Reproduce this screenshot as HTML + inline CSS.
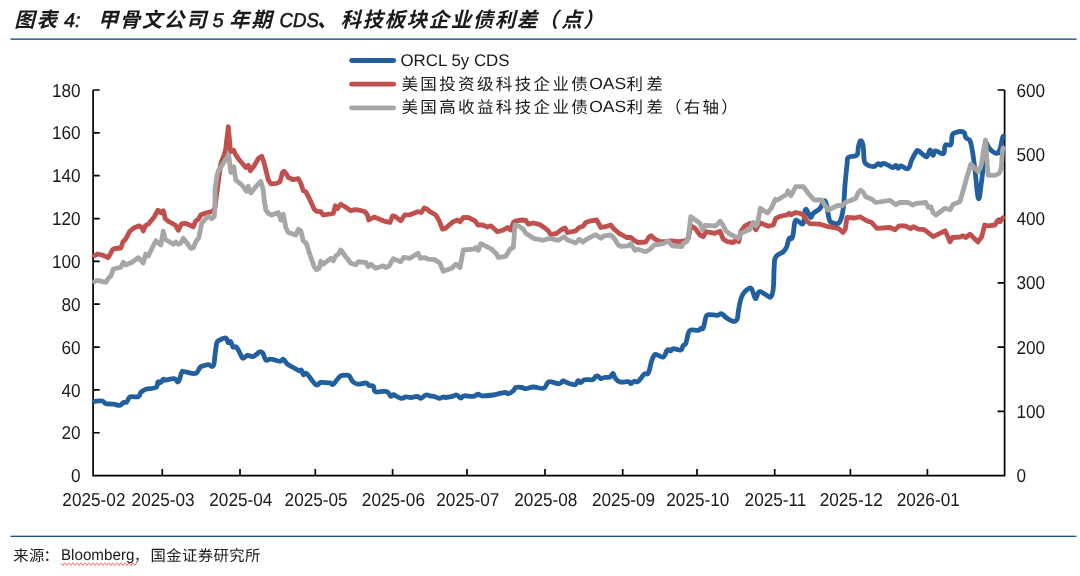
<!DOCTYPE html>
<html lang="zh">
<head>
<meta charset="utf-8">
<title>图表 4: 甲骨文公司 5 年期 CDS、科技板块企业债利差（点）</title>
<style>
html,body{margin:0;padding:0;background:#fff;}
body{width:1080px;height:576px;overflow:hidden;}
svg{display:block;will-change:transform;}
svg text{font-family:"Liberation Sans", "Noto Sans CJK SC", sans-serif;text-rendering:geometricPrecision;}
</style>
</head>
<body>
<svg width="1080" height="576" viewBox="0 0 1080 576">
<rect width="1080" height="576" fill="#fff"/>
<text x="14.3" y="26.9" font-size="20.5" font-style="italic" font-weight="bold" textLength="42.7" lengthAdjust="spacing" fill="#1a1a1a">图表</text>
<text x="64" y="26.6" font-size="20" font-style="italic" stroke="#1a1a1a" stroke-width="0.55" fill="#1a1a1a">4:</text>
<text x="97.7" y="26.9" font-size="20.5" font-style="italic" font-weight="bold" textLength="108.7" lengthAdjust="spacing" fill="#1a1a1a">甲骨文公司</text>
<text x="212.5" y="26.6" font-size="20" font-style="italic" stroke="#1a1a1a" stroke-width="0.55" fill="#1a1a1a">5</text>
<text x="229.1" y="26.9" font-size="20.5" font-style="italic" font-weight="bold" textLength="42.7" lengthAdjust="spacing" fill="#1a1a1a">年期</text>
<text x="279.5" y="26.6" font-size="20" font-style="italic" stroke="#1a1a1a" stroke-width="0.55" textLength="39.5" lengthAdjust="spacingAndGlyphs" fill="#1a1a1a">CDS</text>
<text x="317" y="26.9" font-size="20.5" font-style="italic" font-weight="bold" fill="#1a1a1a">、</text>
<text x="340.5" y="26.9" font-size="20.5" font-style="italic" font-weight="bold" textLength="196.7" lengthAdjust="spacing" fill="#1a1a1a">科技板块企业债利差</text>
<text x="537.7 561.2 583.2" y="26.9" font-size="20.5" font-style="italic" font-weight="bold" fill="#1a1a1a">（点）</text>
<rect x="10.5" y="38.35" width="1066" height="1.65" fill="#3a6e8c"/>
<rect x="10.5" y="535.65" width="1066" height="1.35" fill="#1c5878"/>
<line x1="351.6" y1="60.5" x2="393.7" y2="60.5" stroke="#215f9e" stroke-width="4.8" stroke-linecap="round"/>
<line x1="351.6" y1="84.2" x2="393.7" y2="84.2" stroke="#c0504d" stroke-width="4.8" stroke-linecap="round"/>
<line x1="351.6" y1="107.8" x2="393.7" y2="107.8" stroke="#a6a6a6" stroke-width="4.8" stroke-linecap="round"/>
<text x="400.4" y="66" font-size="16.9" fill="#1a1a1a">ORCL 5y CDS</text>
<text x="401.4" y="90.3" font-size="16.5" textLength="186.4" lengthAdjust="spacing" fill="#1a1a1a">美国投资级科技企业债</text>
<text x="589.2" y="88.7" font-size="16.2" textLength="37.0" lengthAdjust="spacingAndGlyphs" fill="#1a1a1a">OAS</text>
<text x="626.5" y="90.3" font-size="16.5" textLength="36.4" lengthAdjust="spacing" fill="#1a1a1a">利差</text>
<text x="401.4" y="113.4" font-size="16.5" textLength="186.4" lengthAdjust="spacing" fill="#1a1a1a">美国高收益科技企业债</text>
<text x="589.2" y="111.8" font-size="16.2" textLength="37.0" lengthAdjust="spacingAndGlyphs" fill="#1a1a1a">OAS</text>
<text x="626.5" y="113.4" font-size="16.5" textLength="36.4" lengthAdjust="spacing" fill="#1a1a1a">利差</text>
<text x="665.0 683.7 702.5 721.2" y="113.4" font-size="16.5" fill="#1a1a1a">（右轴）</text>
<path d="M93.1 90.0 V475.6 H1004.6 V90.0 M93.1 90.00 h6.6 M93.1 132.84 h6.6 M93.1 175.69 h6.6 M93.1 218.53 h6.6 M93.1 261.38 h6.6 M93.1 304.22 h6.6 M93.1 347.07 h6.6 M93.1 389.91 h6.6 M93.1 432.76 h6.6 M1004.6 90.00 h-7 M1004.6 154.27 h-7 M1004.6 218.53 h-7 M1004.6 282.80 h-7 M1004.6 347.07 h-7 M1004.6 411.33 h-7 M162.3 475.6 v-6.6 M240.0 475.6 v-6.6 M315.3 475.6 v-6.6 M392.6 475.6 v-6.6 M467.0 475.6 v-6.6 M545.0 475.6 v-6.6 M622.7 475.6 v-6.6 M697.0 475.6 v-6.6 M774.7 475.6 v-6.6 M850.4 475.6 v-6.6 M927.4 475.6 v-6.6" fill="none" stroke="#000" stroke-width="1.7" stroke-linecap="butt" stroke-linejoin="miter"/>
<g font-size="17.2" fill="#1a1a1a">
<g text-anchor="end">
<text transform="translate(80.6 96.6) scale(1 1.085)">180</text>
<text transform="translate(80.6 139.4) scale(1 1.085)">160</text>
<text transform="translate(80.6 182.3) scale(1 1.085)">140</text>
<text transform="translate(80.6 225.1) scale(1 1.085)">120</text>
<text transform="translate(80.6 268.0) scale(1 1.085)">100</text>
<text transform="translate(80.6 310.8) scale(1 1.085)">80</text>
<text transform="translate(80.6 353.7) scale(1 1.085)">60</text>
<text transform="translate(80.6 396.5) scale(1 1.085)">40</text>
<text transform="translate(80.6 439.4) scale(1 1.085)">20</text>
<text transform="translate(80.6 482.2) scale(1 1.085)">0</text>
</g>
<g text-anchor="start">
<text transform="translate(1016.4 96.6) scale(1 1.085)">600</text>
<text transform="translate(1016.4 160.9) scale(1 1.085)">500</text>
<text transform="translate(1016.4 225.1) scale(1 1.085)">400</text>
<text transform="translate(1016.4 289.4) scale(1 1.085)">300</text>
<text transform="translate(1016.4 353.7) scale(1 1.085)">200</text>
<text transform="translate(1016.4 417.9) scale(1 1.085)">100</text>
<text transform="translate(1016.4 482.2) scale(1 1.085)">0</text>
</g>
<g text-anchor="middle">
<text transform="translate(93.9 506.0) scale(1 1.085)">2025-02</text>
<text transform="translate(163.1 506.0) scale(1 1.085)">2025-03</text>
<text transform="translate(240.8 506.0) scale(1 1.085)">2025-04</text>
<text transform="translate(316.1 506.0) scale(1 1.085)">2025-05</text>
<text transform="translate(393.4 506.0) scale(1 1.085)">2025-06</text>
<text transform="translate(467.8 506.0) scale(1 1.085)">2025-07</text>
<text transform="translate(545.8 506.0) scale(1 1.085)">2025-08</text>
<text transform="translate(623.5 506.0) scale(1 1.085)">2025-09</text>
<text transform="translate(697.8 506.0) scale(1 1.085)">2025-10</text>
<text transform="translate(775.5 506.0) scale(1 1.085)">2025-11</text>
<text transform="translate(851.2 506.0) scale(1 1.085)">2025-12</text>
<text transform="translate(928.2 506.0) scale(1 1.085)">2026-01</text>
</g>
</g>
<g fill="none" stroke-width="4.8" stroke-linejoin="round" stroke-linecap="round">
<path stroke="#215f9e" d="M94.5 401.3 C96.1 401.3 100.2 400.5 102.5 401.0 C104.8 401.5 103.7 403.0 105.8 403.7 C108.0 404.3 110.5 403.8 113.3 404.2 C116.2 404.5 118.0 405.7 120.0 405.3 C122.0 405.0 122.0 403.2 123.3 402.5 C124.7 401.8 125.3 403.1 126.7 402.0 C128.0 400.9 127.7 398.1 130.0 397.0 C132.3 395.9 136.2 397.6 138.3 396.7 C140.5 395.8 139.3 394.0 140.8 392.5 C142.3 391.0 142.8 390.2 145.8 389.2 C148.8 388.2 153.4 388.9 155.8 387.5 C158.3 386.1 157.0 383.0 158.0 382.0 C159.0 381.0 159.8 383.1 160.8 382.5 C161.9 381.9 162.3 379.7 163.3 379.2 C164.3 378.7 163.7 380.1 165.8 380.0 C168.0 379.9 171.7 378.3 174.2 378.7 C176.7 379.0 176.8 382.9 178.3 381.7 C179.8 380.4 180.5 374.5 181.7 372.5 C182.8 370.5 181.7 371.4 184.2 371.7 C186.7 371.9 191.5 373.7 194.2 373.7 C196.8 373.7 196.3 372.9 197.5 371.7 C198.7 370.4 198.8 368.7 200.0 367.5 C201.2 366.3 201.7 366.4 203.3 365.8 C205.0 365.3 206.3 364.7 208.3 364.7 C210.3 364.7 212.0 367.8 213.3 365.8 C214.7 363.9 214.3 359.5 215.0 355.0 C215.7 350.5 215.8 346.3 216.7 343.3 C217.5 340.4 217.3 341.4 219.2 340.3 C221.0 339.3 224.1 337.6 225.8 338.0 C227.6 338.4 227.0 341.8 228.0 342.5 C229.0 343.2 229.8 340.8 230.8 341.7 C231.8 342.6 232.0 346.0 233.0 347.0 C234.0 348.0 234.8 346.1 235.8 346.7 C236.9 347.3 237.3 348.3 238.3 350.0 C239.3 351.7 239.8 353.3 240.8 355.0 C241.8 356.7 242.0 358.3 243.3 358.3 C244.7 358.4 245.7 355.7 247.5 355.3 C249.3 355.0 250.7 356.9 252.5 356.7 C254.3 356.4 255.2 355.2 256.7 354.2 C258.2 353.2 258.7 351.8 260.0 351.7 C261.3 351.5 261.8 351.7 263.0 353.3 C264.2 355.0 264.3 358.8 265.8 360.0 C267.4 361.2 268.0 358.9 270.8 359.2 C273.7 359.4 277.5 361.3 280.0 361.3 C282.5 361.3 281.8 358.6 283.3 359.2 C284.8 359.7 285.5 362.5 287.5 364.2 C289.5 365.8 291.0 366.2 293.3 367.5 C295.7 368.8 297.6 370.3 299.2 370.8 C300.8 371.3 300.5 369.2 301.3 370.0 C302.2 370.8 302.3 373.9 303.3 374.7 C304.4 375.4 304.2 371.7 306.7 373.7 C309.2 375.7 313.0 382.9 315.8 384.7 C318.7 386.4 318.0 382.8 320.8 382.5 C323.7 382.2 327.5 382.7 330.0 383.0 C332.5 383.3 331.3 385.5 333.3 384.2 C335.3 382.8 337.7 378.1 340.0 376.3 C342.3 374.6 343.2 375.4 345.0 375.3 C346.8 375.2 347.7 374.6 349.2 375.8 C350.7 377.0 350.8 379.7 352.5 381.3 C354.2 383.0 354.8 383.8 357.5 384.2 C360.2 384.5 363.5 382.8 365.8 383.0 C368.2 383.2 367.7 384.7 369.2 385.3 C370.7 386.0 372.1 385.1 373.3 386.3 C374.6 387.6 373.3 390.7 375.3 391.7 C377.3 392.7 380.9 391.3 383.3 391.3 C385.8 391.4 386.0 391.0 387.5 392.0 C389.0 393.0 389.7 395.8 390.8 396.3 C392.0 396.9 391.3 394.3 393.3 394.7 C395.3 395.1 398.3 397.9 400.8 398.3 C403.3 398.8 403.8 397.2 405.8 397.0 C407.8 396.8 408.5 397.6 410.8 397.5 C413.2 397.4 415.5 396.2 417.5 396.3 C419.5 396.5 419.2 398.6 420.8 398.3 C422.5 398.1 424.0 395.5 425.8 395.0 C427.7 394.5 428.2 395.5 430.0 395.8 C431.8 396.2 433.2 396.2 435.0 396.7 C436.8 397.2 437.5 398.3 439.2 398.3 C440.8 398.4 442.0 397.2 443.3 397.0 C444.7 396.8 444.0 397.6 445.8 397.5 C447.7 397.4 450.3 396.8 452.5 396.3 C454.7 395.8 455.0 394.7 456.7 395.0 C458.3 395.3 459.3 397.8 460.8 398.0 C462.3 398.2 461.7 396.2 464.2 395.8 C466.7 395.5 470.5 396.7 473.3 396.3 C476.2 396.0 476.7 394.3 478.3 394.2 C480.0 394.1 478.7 395.7 481.7 395.8 C484.7 396.0 489.7 395.5 493.3 395.0 C497.0 394.5 497.5 393.8 500.0 393.3 C502.5 392.8 504.2 392.4 505.8 392.5 C507.5 392.6 506.8 394.0 508.3 393.7 C509.8 393.3 511.8 392.1 513.3 390.8 C514.8 389.6 514.2 388.2 515.8 387.5 C517.5 386.8 519.7 387.3 521.7 387.5 C523.7 387.7 523.5 388.8 525.8 388.7 C528.2 388.6 529.8 387.1 533.3 387.0 C536.8 386.9 540.5 389.1 543.3 388.3 C546.2 387.5 546.2 384.3 547.5 383.0 C548.8 381.7 547.7 381.5 550.0 381.7 C552.3 381.8 556.6 383.8 559.2 383.7 C561.8 383.5 561.5 381.1 563.0 380.8 C564.5 380.6 564.3 381.7 566.7 382.5 C569.1 383.3 572.7 385.0 575.0 384.7 C577.3 384.3 576.8 381.3 578.0 380.8 C579.2 380.4 579.4 382.7 580.8 382.5 C582.2 382.3 582.7 380.2 585.0 379.7 C587.3 379.1 590.3 380.3 592.5 379.7 C594.7 379.0 594.7 377.0 595.8 376.3 C597.0 375.7 597.3 375.9 598.3 376.3 C599.3 376.8 599.7 378.4 600.8 378.7 C602.0 378.9 602.3 377.8 604.2 377.5 C606.0 377.2 608.2 377.8 610.0 377.0 C611.8 376.2 611.9 373.1 613.0 373.3 C614.1 373.6 613.9 376.6 615.3 378.3 C616.7 380.1 617.4 381.3 620.0 382.0 C622.6 382.7 626.2 381.3 628.3 381.7 C630.5 382.0 629.7 383.7 630.8 383.7 C632.0 383.6 632.7 381.8 634.2 381.3 C635.7 380.9 636.3 382.8 638.3 381.3 C640.3 379.9 642.2 375.8 644.2 374.2 C646.2 372.5 646.8 375.7 648.3 373.0 C649.8 370.3 650.5 364.4 651.7 360.8 C652.8 357.3 653.2 356.6 654.2 355.3 C655.2 354.1 654.8 354.3 656.7 354.7 C658.5 355.0 661.3 357.8 663.3 357.0 C665.3 356.2 665.7 352.3 666.7 350.8 C667.7 349.4 667.5 349.7 668.3 349.7 C669.2 349.7 669.8 351.0 670.8 350.8 C671.8 350.6 671.3 348.8 673.3 348.7 C675.3 348.5 678.9 350.6 680.8 350.0 C682.8 349.4 682.0 347.2 683.0 345.8 C684.0 344.5 684.8 345.8 685.8 343.3 C686.9 340.8 687.3 336.0 688.3 333.3 C689.3 330.7 688.8 330.6 690.8 330.0 C692.8 329.4 696.3 330.7 698.3 330.3 C700.3 330.0 699.8 328.8 700.8 328.3 C701.8 327.9 702.3 330.2 703.3 328.0 C704.3 325.8 704.8 320.2 705.8 317.5 C706.8 314.8 706.0 315.1 708.3 314.7 C710.7 314.2 715.0 315.5 717.5 315.3 C720.0 315.1 719.7 313.7 720.8 313.7 C722.0 313.6 722.2 314.1 723.3 315.0 C724.5 315.9 725.0 316.8 726.7 318.0 C728.3 319.2 730.1 320.2 731.7 320.8 C733.3 321.5 733.5 321.8 734.7 321.3 C735.8 320.9 736.5 321.1 737.3 318.7 C738.1 316.2 737.8 313.6 738.7 309.2 C739.5 304.8 740.2 300.3 741.7 296.7 C743.1 293.0 744.0 292.6 745.8 290.8 C747.7 289.1 749.3 287.5 750.8 288.0 C752.3 288.5 752.3 291.2 753.3 293.3 C754.3 295.5 754.7 299.0 755.8 298.7 C757.0 298.3 757.2 292.5 759.2 291.7 C761.2 290.9 763.5 293.6 765.8 294.7 C768.2 295.7 769.3 298.3 770.8 297.0 C772.3 295.7 772.7 294.4 773.3 288.3 C774.0 282.3 773.7 273.0 774.2 266.7 C774.7 260.3 774.0 259.7 775.8 256.7 C777.7 253.7 781.2 253.7 783.3 251.7 C785.5 249.7 785.5 249.3 786.7 246.7 C787.8 244.0 788.0 240.2 789.2 238.3 C790.3 236.5 791.3 240.8 792.5 237.5 C793.7 234.2 793.8 224.9 795.0 221.7 C796.2 218.4 796.7 221.0 798.3 221.3 C800.0 221.7 801.9 225.6 803.3 223.3 C804.7 221.1 804.4 212.2 805.3 210.0 C806.3 207.8 806.9 211.0 808.0 212.5 C809.1 214.0 809.8 217.3 810.8 217.5 C811.9 217.7 811.5 215.2 813.3 213.3 C815.2 211.5 817.8 210.8 820.0 208.3 C822.2 205.8 822.8 201.3 824.2 200.8 C825.5 200.3 825.7 202.2 826.7 205.8 C827.7 209.5 828.2 215.8 829.2 219.2 C830.2 222.5 829.8 221.7 831.7 222.5 C833.5 223.3 836.3 224.5 838.3 223.3 C840.3 222.2 840.6 220.3 841.7 216.7 C842.7 213.0 843.0 211.3 843.7 205.0 C844.3 198.7 844.3 193.0 845.0 185.0 C845.7 177.0 846.3 170.5 847.0 165.0 C847.7 159.5 846.4 159.4 848.3 157.5 C850.3 155.6 854.7 157.3 856.7 155.3 C858.7 153.3 857.6 150.4 858.3 147.5 C859.1 144.6 859.4 141.3 860.3 140.8 C861.3 140.3 862.2 141.2 863.0 145.0 C863.8 148.8 863.5 156.2 864.2 160.0 C864.8 163.8 864.5 162.8 866.3 164.2 C868.2 165.5 870.9 166.8 873.3 166.7 C875.7 166.6 876.8 163.9 878.3 163.7 C879.8 163.4 879.8 165.4 880.8 165.3 C881.8 165.3 881.8 163.3 883.3 163.3 C884.8 163.3 886.3 164.5 888.3 165.3 C890.3 166.2 891.8 167.5 893.3 167.5 C894.8 167.5 894.8 165.2 895.8 165.3 C896.8 165.5 897.3 168.2 898.3 168.3 C899.3 168.4 898.9 165.8 900.8 165.8 C902.8 165.9 905.8 169.8 908.0 168.7 C910.2 167.5 910.1 163.2 911.7 160.0 C913.2 156.8 914.5 154.3 915.8 152.5 C917.2 150.7 916.3 150.0 918.3 150.8 C920.3 151.7 923.8 156.1 925.8 156.7 C927.8 157.2 927.4 155.0 928.3 153.7 C929.2 152.3 929.4 149.7 930.3 150.0 C931.3 150.3 932.0 155.2 933.0 155.3 C934.0 155.5 933.3 151.2 935.3 150.8 C937.4 150.5 941.3 154.8 943.3 153.7 C945.3 152.6 943.8 147.1 945.3 145.3 C946.8 143.5 949.5 146.4 950.8 144.7 C952.2 142.9 951.3 139.0 952.0 136.7 C952.7 134.3 951.9 133.9 954.2 133.0 C956.4 132.1 961.0 131.1 963.3 132.0 C965.7 132.9 964.5 135.7 965.8 137.5 C967.2 139.3 968.7 138.0 970.0 140.8 C971.3 143.7 971.5 145.8 972.5 151.7 C973.5 157.5 973.8 160.7 975.0 170.0 C976.2 179.3 977.1 195.7 978.3 198.3 C979.6 201.0 980.3 190.7 981.3 183.3 C982.4 176.0 982.8 169.5 983.7 161.7 C984.6 153.8 984.9 147.1 985.8 144.2 C986.8 141.2 987.2 145.7 988.3 147.0 C989.5 148.3 990.0 149.6 991.7 150.8 C993.3 152.1 995.0 153.7 996.7 153.3 C998.3 153.0 998.9 151.8 1000.0 149.2 C1001.1 146.5 1001.4 142.6 1002.0 140.0 C1002.6 137.4 1002.9 137.1 1003.2 136.3"/>
<path stroke="#c0504d" d="M94.5 255.7 L97.5 254.0 L103.3 255.3 L108.0 257.7 L110.3 254.2 L112.5 249.7 L115.0 248.5 L120.8 248.0 L123.0 241.7 L125.5 239.3 L129.7 231.3 L133.7 228.0 L139.2 225.8 L141.7 227.5 L143.3 231.0 L145.3 225.8 L148.7 223.7 L154.2 217.0 L158.0 210.3 L160.8 212.7 L163.3 210.7 L165.3 218.7 L168.3 221.3 L175.3 225.0 L178.3 230.3 L181.7 223.7 L185.3 223.3 L193.3 226.7 L195.7 221.0 L198.3 219.3 L200.7 215.0 L205.0 213.3 L211.7 211.7 L214.7 209.2 L220.8 163.3 L224.2 155.0 L225.8 148.3 L228.3 126.7 L230.5 151.7 L233.7 150.3 L235.8 155.0 L240.0 160.8 L245.8 167.5 L248.3 165.3 L250.3 170.8 L254.2 165.8 L258.7 158.0 L261.7 156.3 L264.2 163.3 L268.3 180.0 L270.8 183.8 L276.7 183.3 L280.0 181.7 L282.5 172.5 L284.2 171.3 L286.7 174.2 L288.3 177.5 L293.3 179.7 L298.3 178.7 L300.8 183.3 L303.3 190.8 L305.8 191.7 L309.2 198.3 L314.2 209.2 L316.7 211.3 L320.8 211.7 L323.3 215.0 L333.3 213.3 L335.3 205.8 L337.5 208.7 L340.8 204.2 L345.0 206.7 L350.8 210.8 L354.2 209.7 L358.3 210.0 L360.0 210.3 L365.0 211.7 L367.5 215.0 L368.7 220.0 L374.2 217.0 L383.3 220.8 L390.0 222.5 L392.5 215.8 L395.0 216.3 L400.8 220.8 L404.7 215.0 L410.0 214.7 L417.5 211.7 L421.3 212.5 L424.2 208.0 L426.7 208.7 L430.0 211.7 L435.8 215.0 L439.2 220.8 L442.5 229.2 L445.0 228.7 L453.3 221.7 L457.5 220.0 L460.0 221.7 L463.3 217.5 L468.3 217.5 L475.0 220.8 L478.0 225.0 L482.5 225.0 L487.5 227.0 L490.8 225.8 L497.5 231.7 L503.3 230.0 L507.5 227.5 L510.8 230.0 L513.3 222.5 L515.8 220.8 L522.5 220.0 L525.8 220.3 L528.3 224.2 L533.3 223.0 L540.0 224.7 L544.2 227.5 L548.3 230.8 L550.8 234.7 L556.7 233.3 L560.8 230.0 L565.0 228.0 L567.5 232.5 L575.8 230.8 L579.2 227.5 L583.0 226.3 L585.8 222.5 L590.8 220.8 L596.7 220.0 L600.8 227.5 L605.0 226.7 L610.8 225.0 L614.2 229.2 L619.2 233.3 L626.7 237.5 L630.8 237.5 L635.0 240.8 L638.3 242.5 L645.8 242.0 L649.2 236.7 L651.3 235.8 L655.0 239.2 L660.0 241.7 L666.7 241.3 L671.7 240.8 L678.3 241.7 L685.0 240.8 L688.3 238.3 L690.8 225.8 L695.0 228.3 L700.0 235.0 L703.3 236.7 L705.8 231.7 L715.0 233.3 L720.0 231.3 L723.3 239.2 L727.5 241.7 L733.3 242.5 L735.8 240.0 L738.7 241.7 L740.8 231.7 L745.0 225.8 L750.0 223.3 L753.3 225.8 L755.8 229.7 L758.0 225.8 L760.8 223.0 L768.3 226.3 L773.3 225.0 L775.8 218.3 L780.0 216.3 L786.7 215.0 L789.2 213.3 L790.8 214.7 L795.8 212.5 L800.0 213.3 L804.2 215.8 L806.7 220.8 L810.0 223.7 L820.0 224.2 L828.3 226.7 L838.3 228.3 L843.0 232.5 L845.3 229.2 L847.0 217.5 L855.0 218.0 L860.0 216.7 L866.7 220.8 L871.7 222.5 L876.7 228.3 L890.0 227.5 L895.0 229.7 L899.2 225.8 L905.0 225.8 L910.8 228.7 L913.3 226.7 L918.3 229.2 L924.2 229.7 L933.3 236.7 L945.0 230.8 L947.5 235.8 L950.0 241.7 L952.5 237.5 L960.0 237.0 L963.3 235.8 L965.8 237.5 L970.0 234.2 L978.0 242.0 L981.7 236.7 L984.7 225.0 L988.3 225.8 L995.0 225.0 L997.5 220.8 L1000.0 221.7 L1003.0 217.8"/>
<path stroke="#a6a6a6" d="M94.5 281.7 L97.5 280.3 L105.8 282.3 L108.7 278.0 L111.0 275.8 L113.3 269.0 L120.8 267.3 L123.3 262.3 L125.7 265.0 L132.0 262.3 L138.3 257.7 L143.3 263.0 L145.7 254.0 L148.3 256.0 L152.0 248.3 L155.8 240.7 L160.8 245.0 L163.3 231.3 L165.3 239.3 L173.3 244.3 L175.8 242.0 L178.3 244.3 L180.8 243.3 L183.3 238.3 L190.8 248.3 L193.3 247.7 L196.0 241.3 L198.7 238.0 L201.7 223.3 L205.0 219.3 L208.3 216.3 L211.7 218.7 L214.2 216.7 L215.0 206.7 L215.0 190.0 L216.7 176.7 L218.3 170.8 L223.3 163.3 L228.7 155.0 L230.8 172.5 L233.7 166.7 L235.8 180.0 L240.0 183.3 L243.3 186.7 L246.3 191.3 L248.3 186.3 L250.8 193.0 L255.8 186.7 L260.8 181.3 L263.3 190.0 L264.2 200.0 L265.8 210.0 L268.3 213.3 L271.7 215.0 L278.3 212.5 L280.8 220.0 L283.3 214.2 L285.8 227.5 L288.3 232.5 L295.8 235.0 L298.3 229.2 L300.8 230.8 L303.3 240.8 L306.3 243.3 L310.0 255.0 L314.2 266.7 L316.7 269.7 L319.2 268.3 L320.8 261.3 L323.3 264.2 L330.8 258.3 L333.3 260.8 L335.8 255.8 L338.3 254.2 L340.8 250.0 L345.8 256.7 L350.8 263.3 L355.8 264.7 L358.3 261.7 L360.0 262.0 L365.8 262.5 L368.3 266.7 L370.8 264.2 L375.8 268.3 L383.3 265.8 L385.8 267.5 L389.2 265.8 L393.3 258.7 L400.8 261.7 L403.7 257.5 L410.0 258.3 L418.0 253.3 L420.3 258.3 L424.2 257.5 L428.3 259.2 L435.0 259.7 L440.0 263.3 L443.3 271.3 L451.7 268.3 L455.8 264.2 L460.0 267.5 L463.3 250.0 L474.2 249.2 L475.8 247.5 L478.3 250.3 L480.8 243.7 L491.7 249.2 L496.7 254.2 L498.3 257.5 L505.8 256.3 L510.0 249.2 L513.3 247.5 L515.0 225.0 L518.3 225.8 L523.3 229.2 L525.8 233.3 L533.3 238.3 L540.0 239.7 L543.3 240.3 L550.0 238.3 L558.3 240.3 L564.2 236.7 L567.5 240.0 L575.8 243.0 L579.2 239.2 L583.0 242.0 L586.7 239.2 L595.8 234.7 L600.8 238.3 L604.2 235.8 L610.8 235.0 L614.2 238.3 L618.3 245.0 L620.8 246.3 L628.3 245.8 L630.8 243.7 L635.0 250.3 L637.5 249.2 L645.8 251.7 L650.0 249.2 L654.2 245.0 L663.3 243.7 L668.0 240.8 L672.5 245.8 L681.7 246.7 L683.3 243.3 L686.7 241.7 L688.3 236.7 L690.8 216.7 L695.0 219.7 L700.0 223.3 L702.5 230.0 L705.0 225.3 L715.8 225.8 L720.0 221.3 L722.5 224.2 L725.8 230.8 L730.0 234.2 L735.8 237.0 L738.3 238.3 L740.8 233.3 L750.0 229.2 L753.3 222.5 L755.8 225.8 L757.5 223.3 L760.3 208.3 L767.5 213.0 L771.7 207.5 L775.3 199.2 L777.5 200.0 L786.7 194.2 L788.0 190.8 L790.8 195.8 L795.8 186.7 L803.3 186.7 L808.3 193.3 L814.2 200.0 L821.7 200.0 L824.7 205.0 L828.0 210.0 L838.3 205.3 L841.7 205.8 L846.7 201.7 L850.0 200.8 L855.8 198.3 L858.3 192.5 L860.8 190.3 L863.3 192.5 L865.8 196.7 L871.7 199.2 L875.8 202.5 L890.0 200.3 L895.8 204.7 L900.0 202.5 L908.3 202.5 L912.5 205.0 L916.7 203.3 L925.8 202.5 L928.3 207.5 L930.8 206.7 L933.3 213.0 L935.8 215.0 L945.0 208.3 L950.0 209.7 L953.3 204.2 L960.0 201.7 L963.3 190.0 L967.5 175.0 L970.8 164.2 L978.3 171.7 L981.3 165.0 L983.3 151.7 L985.5 140.0 L988.0 175.0 L995.0 175.3 L999.2 173.3 L1001.3 168.3 L1002.5 150.0 L1003.2 148.0"/>
</g>
<text x="13.2" y="560.6" font-size="15.3" textLength="31.1" lengthAdjust="spacing" fill="#1a1a1a">来源</text>
<text x="43.5" y="560.6" font-size="15.3" fill="#1a1a1a">：</text>
<text x="61.0" y="559.9" font-size="15.7" textLength="73.4" lengthAdjust="spacingAndGlyphs" fill="#1a1a1a">Bloomberg</text>
<path d="M60.8 563.0 L62.8 565.5 L64.8 562.9 L66.8 565.5 L68.8 562.9 L70.8 565.5 L72.8 562.9 L74.8 565.5 L76.8 562.9 L78.8 565.5 L80.8 562.9 L82.8 565.5 L84.8 562.9 L86.8 565.5 L88.8 562.9 L90.8 565.5 L92.8 562.9 L94.8 565.5 L96.8 562.9 L98.8 565.5 L100.8 562.9 L102.8 565.5 L104.8 562.9 L106.8 565.5 L108.8 562.9 L110.8 565.5 L112.8 562.9 L114.8 565.5 L116.8 562.9 L118.8 565.5 L120.8 562.9 L122.8 565.5 L124.8 562.9 L126.8 565.5 L128.8 562.9 L130.8 565.5 L132.8 562.9 L134.8 565.5 L136.8 562.9" fill="none" stroke="#f45f5f" stroke-width="0.95" stroke-linejoin="round"/>
<text x="134" y="560.6" font-size="14.2" fill="#1a1a1a">，</text>
<text x="150.5" y="560.6" font-size="15.3" textLength="109.8" lengthAdjust="spacing" fill="#1a1a1a">国金证券研究所</text>
</svg>
</body>
</html>
